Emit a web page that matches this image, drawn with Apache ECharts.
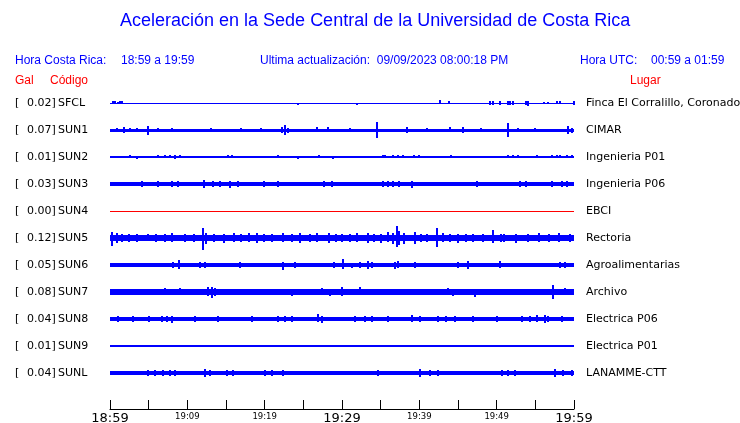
<!DOCTYPE html>
<html>
<head>
<meta charset="utf-8">
<script src="https://cdn.jsdelivr.net/npm/echarts@6/dist/echarts.min.js"></script>
<style>
html,body{margin:0;padding:0;background:#fff;}
#chart{width:740px;height:423px;}
</style>
</head>
<body>
<div id="chart"></div>
<script>
// ---------------- DATA ----------------
const stations = ['SFCL','SUN1','SUN2','SUN3','SUN4','SUN5','SUN6','SUN7','SUN8','SUN9','SUNL'];
const places = ['Finca El Corralillo, Coronado','CIMAR','Ingenieria P01','Ingenieria P06','EBCI','Rectoria','Agroalimentarias','Archivo','Electrica P06','Electrica P01','LANAMME-CTT'];
const galValues = [0.02,0.07,0.01,0.03,0.00,0.12,0.05,0.08,0.04,0.01,0.04];
const tickLabels = ['18:59','','19:09','','19:19','','19:29','','19:39','','19:49','','19:59'];
const majorLabels = ['18:59','19:29','19:59'];
// background (noise band) half-amplitude of each trace, in counts
const baseAmp = [0.5,1.5,0.6,2.0,0.5,3.2,1.7,2.6,2.4,1.1,1.9];
// events: [minute, amplitude up, amplitude down] in counts
const evSFCL = [[0.4,2,1],[0.7,2,1],[1.0,1,1],[1.3,2,1],[1.5,2,1],[24.3,0,1.5],[31.9,0,2],[42.7,3,1],[43.8,2,0],[49.1,2,2],[49.5,2,2],[50.4,2,2],[51.5,2,2],[51.7,2,2],[52.1,2,2],[53.0,0,1],[53.8,2,2],[54.1,2,3],[56.1,1,0],[56.6,1,0],[57.8,2,1],[58.2,2,1],[60,2,2]];
const evSUN1 = [[0.9,2,2],[1.8,3,3],[2.6,2,2],[3.5,2,1],[4.9,4,5],[6.2,2,2],[8.0,2,1],[9.7,1,2],[13.0,2,1],[17.0,2,2],[19.5,2,2],[22.2,3,3],[22.6,5,5],[23.0,2,3],[26.8,3,2],[28.2,3,2],[31.0,2,2],[34.5,8,8],[38.4,3,3],[41.0,2,2],[44.0,3,2],[45.6,3,3],[48.0,2,2],[51.5,7,7],[52.8,2,2],[55.0,2,2],[59.2,4,4],[59.7,2,3]];
const evSUN2 = [[2.6,2,0],[3.5,0,2],[6.2,2,1],[7.1,2,0],[7.7,2,1],[8.4,2,2],[9.05,2,1],[15.3,2,1],[15.8,2,0],[21.7,2,0],[24.3,0,2],[27.0,2,0],[28.8,0,2],[35.3,2,1],[35.5,2,1],[36.6,2,0],[37.2,2,0],[37.9,2,0],[39.3,2,1],[40.0,2,0],[44.1,2,1],[51.5,2,1],[52.1,2,0],[52.8,2,0],[54.1,1,1],[55.2,2,1],[57.2,2,1],[57.8,2,1],[58.2,2,1],[59.1,2,1],[59.7,2,1]];
const evSUN3 = [[4.1,3,3],[6.2,3,3],[8.0,3,3],[8.8,3,3],[12.2,4,4],[13.3,3,3],[14.2,3,3],[15.5,3,4],[16.6,3,3],[19.9,3,3],[21.7,3,3],[27.7,3,3],[28.7,3,3],[35.3,3,3],[35.9,3,3],[36.6,3,3],[37.4,3,3],[39.1,3,4],[47.5,3,3],[53.0,3,3],[53.8,3,3],[57.2,3,3],[58.4,3,3],[59.1,3,3]];
const evSUN4 = [];
const evSUN5 = [[0.3,6,8],[0.9,5,5],[1.5,4,4],[2.5,4,4],[3.5,4,4],[4.9,4,3],[6.0,4,4],[7.1,4,4],[8.0,5,4],[9.7,4,4],[10.8,4,4],[12.0,10,12],[12.4,5,6],[13.5,4,4],[14.8,4,5],[16.0,5,4],[17.0,4,4],[18.0,5,4],[19.0,5,5],[19.9,4,4],[21.0,4,4],[22.4,5,4],[23.5,4,4],[24.6,5,5],[25.8,4,4],[26.8,5,4],[28.3,5,5],[29.2,4,4],[30.0,4,4],[31.0,4,4],[32.0,5,4],[33.4,5,5],[34.2,4,4],[35.0,4,5],[36.0,6,4],[36.6,5,6],[37.1,12,9],[37.4,7,7],[38.0,5,6],[39.4,6,6],[40.2,4,4],[41.0,4,4],[42.3,10,9],[43.0,5,4],[44.0,4,4],[45.0,4,5],[46.0,4,4],[47.0,4,4],[48.2,4,4],[49.5,8,5],[50.5,4,4],[51.0,4,4],[52.5,4,5],[54.0,4,4],[55.5,5,4],[56.8,4,4],[58.0,5,4],[59.5,4,4]];
const evSUN6 = [[1.7,2,2],[2.8,2,2],[4.1,2,2],[5.4,2,2],[6.7,2,2],[8.1,3,3],[8.9,5,4],[10.6,2,2],[11.6,3,3],[12.3,3,3],[14.4,2,2],[15.8,2,2],[16.8,3,3],[17.5,2,2],[19.0,2,2],[20.9,2,2],[21.7,2,2],[22.4,3,5],[23.9,3,3],[25.2,2,2],[26.9,2,2],[27.8,2,2],[29.0,3,3],[30.1,6,4],[31.3,2,3],[32.3,3,3],[33.4,4,4],[33.9,3,3],[35.2,2,2],[35.9,2,2],[36.9,3,4],[37.2,4,3],[39.4,3,3],[41.0,2,2],[41.4,2,2],[42.9,2,2],[45.0,3,3],[46.3,4,4],[47.5,2,2],[48.5,2,2],[50.4,4,3],[52.0,2,2],[53.3,2,2],[54.6,2,2],[55.3,2,2],[56.3,2,2],[57.2,2,2],[58.2,3,3],[58.8,3,3]];
const evSUN7 = [[0.6,3,3],[1.9,3,3],[3.2,3,3],[4.5,3,3],[5.8,3,3],[7.1,4,3],[8.0,3,3],[9.05,4,3],[12.7,5,4],[13.2,5,6],[13.6,4,4],[14.9,3,3],[16.6,3,3],[18.4,3,3],[19.7,3,3],[22.6,3,3],[23.5,3,4],[25.9,3,3],[27.4,4,3],[28.4,3,4],[29.1,3,3],[30.0,5,4],[32.3,5,3],[33.9,3,3],[35.2,3,3],[36.5,3,3],[37.2,3,3],[38.1,3,3],[39.1,3,3],[42.0,3,3],[42.4,3,3],[43.7,4,3],[44.4,3,4],[47.2,3,5],[50.2,3,3],[51.7,3,3],[53.3,3,3],[55.3,3,3],[57.3,7,7],[58.8,4,3]];
const evSUN8 = [[1.0,3,3],[3.0,3,3],[5.0,3,3],[6.7,3,3],[7.4,3,3],[8.0,3,4],[11.0,3,3],[14.0,3,3],[18.4,3,3],[21.7,3,3],[22.6,3,3],[23.5,3,3],[26.9,5,3],[27.4,3,4],[31.7,3,3],[33.0,3,3],[33.9,3,3],[36.0,3,3],[39.1,4,3],[40.1,3,3],[42.4,3,3],[43.4,3,3],[44.6,3,3],[47.0,3,3],[50.0,3,3],[53.3,3,3],[54.3,3,3],[55.2,4,3],[56.3,4,4],[56.6,3,3],[58.5,3,3]];
const evSUN9 = [[2.0,1.5,1],[4.0,1.5,1],[6.5,1.5,1],[9.0,1.5,1],[12.0,1.5,1],[14.5,1.5,1],[20.0,1.5,1],[24.0,1.5,1],[29.0,1.5,1],[33.0,1.5,1],[36.0,1.5,1],[40.0,1.5,1],[44.0,1.5,1],[48.0,1.5,1],[52.0,1.5,1],[56.0,1.5,1]];
const evSUNL = [[0.6,2,2],[3.2,2,2],[4.9,3,3],[5.8,3,3],[6.9,3,3],[7.8,3,3],[8.4,3,3],[9.4,2,2],[12.3,4,4],[12.9,3,3],[15.1,3,3],[15.9,3,3],[18.4,2,2],[20.0,3,3],[20.9,3,3],[22.4,3,3],[25.9,2,2],[27.4,2,2],[27.8,2,2],[34.7,3,3],[37.1,2,2],[40.1,4,4],[41.4,3,3],[42.4,3,3],[45.5,2,2],[48.9,2,2],[50.7,3,3],[51.5,3,3],[52.4,3,3],[52.8,2,2],[53.8,2,2],[55.0,2,2],[57.5,4,4],[58.6,3,3],[59.7,3,3]];
const traceEvents = [evSFCL,evSUN1,evSUN2,evSUN3,evSUN4,evSUN5,evSUN6,evSUN7,evSUN8,evSUN9,evSUNL];

// ---------------- CHART ----------------
const BLUE = '#0000ff', RED = '#ff0000';
const GAIN = 1/27;   // counts -> trace units
const chart = echarts.init(document.getElementById('chart'), null, {renderer:'canvas'});

const items = [];
stations.forEach((s, i) => {
  items.push([0, 60, i, baseAmp[i], baseAmp[i]]);
  traceEvents[i].forEach(e => items.push([e[0], e[0], i, Math.max(e[1], baseAmp[i]), Math.max(e[2], baseAmp[i])]));
});

function renderItem(params, api) {
  const x0 = api.value(0), x1 = api.value(1), ti = api.value(2), up = api.value(3), dn = api.value(4);
  const p0 = api.coord([x0, ti - up * GAIN]);
  const p1 = api.coord([x1, ti + dn * GAIN]);
  let left = Math.min(p0[0], p1[0]), w = Math.abs(p1[0] - p0[0]);
  if (w < 2) { left = (p0[0] + p1[0]) / 2 - 1; w = 2; }
  let top = Math.min(p0[1], p1[1]), h = Math.abs(p1[1] - p0[1]);
  // snap to device pixels for crisp trace rendering
  const L = Math.round(left), R = Math.round(left + w);
  const T = Math.round(top), B = Math.max(T + 1, Math.round(top + h));
  return {type:'rect', shape:{x:L, y:T, width:Math.max(1, R - L), height:B - T},
          style:{fill: galValues[ti] === 0 ? RED : BLUE}};
}

const hdrFont = 'Liberation Sans, Arial, sans-serif';
function hText(x, y, text, color, align) {
  return {type:'text', x:x, y:y, silent:true,
    style:{text:text, fill:color, fontSize:12, fontFamily:hdrFont, align:align||'left', verticalAlign:'middle'}};
}

const option = {
  animation:false,
  backgroundColor:'#fff',
  title:{text:'Aceleración en la Sede Central de la Universidad de Costa Rica', left:120, top:12, padding:0,
    textStyle:{color:BLUE, fontSize:18, fontWeight:'normal', fontFamily:hdrFont}},
  graphic:[
    hText(15, 61, 'Hora Costa Rica:', BLUE),
    hText(121, 61, '18:59 a 19:59', BLUE),
    hText(260, 61, 'Ultima actualización:  09/09/2023 08:00:18 PM', BLUE),
    hText(580, 61, 'Hora UTC:', BLUE),
    hText(651, 61, '00:59 a 01:59', BLUE),
    hText(15, 81, 'Gal', RED),
    hText(50, 81, 'Código', RED),
    hText(630, 81, 'Lugar', RED)
  ],
  grid:{left:110, right:166, top:76, bottom:14, containLabel:false, outerBoundsMode:'none'},
  xAxis:{type:'value', min:0, max:60, interval:5, position:'bottom',
    axisLine:{show:true, onZero:false, lineStyle:{color:'#000', width:1}},
    axisTick:{show:true, inside:true, length:9, lineStyle:{color:'#000', width:1}},
    splitLine:{show:false},
    axisLabel:{margin:3, color:'#000',
      formatter:function(v){ const t = tickLabels[Math.round(v/5)] || ''; if (!t) return '';
        return majorLabels.indexOf(t) >= 0 ? '{b|' + t + '}' : '{s|' + t + '}'; },
      rich:{b:{fontSize:13, lineHeight:13, fontFamily:'DejaVu Sans', color:'#000'},
            s:{fontSize:8.5, lineHeight:10, fontFamily:'DejaVu Sans', color:'#000'}}}},
  yAxis:[
    {type:'value', min:-1, max:11 + 1/3, interval:1, inverse:true, position:'left',
     axisLine:{show:false}, axisTick:{show:false}, splitLine:{show:false},
     axisLabel:{margin:95, align:'left', color:'#000',
       formatter:function(v){ if (v < 0 || v > 10 || v !== Math.round(v)) return '';
         return '{a|[}{v|' + galValues[v].toFixed(2) + ']}{n|' + stations[v] + '}'; },
       rich:{a:{width:12, fontSize:11, fontFamily:'DejaVu Sans', color:'#000'},
             v:{width:31, fontSize:11, fontFamily:'DejaVu Sans', color:'#000'},
             n:{fontSize:11, fontFamily:'DejaVu Sans', color:'#000'}}}},
    {type:'value', min:-1, max:11 + 1/3, interval:1, inverse:true, position:'right',
     axisLine:{show:false}, axisTick:{show:false}, splitLine:{show:false},
     axisLabel:{margin:12, align:'left', color:'#000', fontSize:11, fontFamily:'DejaVu Sans',
       formatter:function(v){ if (v < 0 || v > 10 || v !== Math.round(v)) return ''; return places[v]; }}}
  ],
  series:[{type:'custom', renderItem:renderItem, data:items, encode:{x:[0,1], y:2}, clip:false, silent:true}]
};
chart.setOption(option);
</script>
</body>
</html>
